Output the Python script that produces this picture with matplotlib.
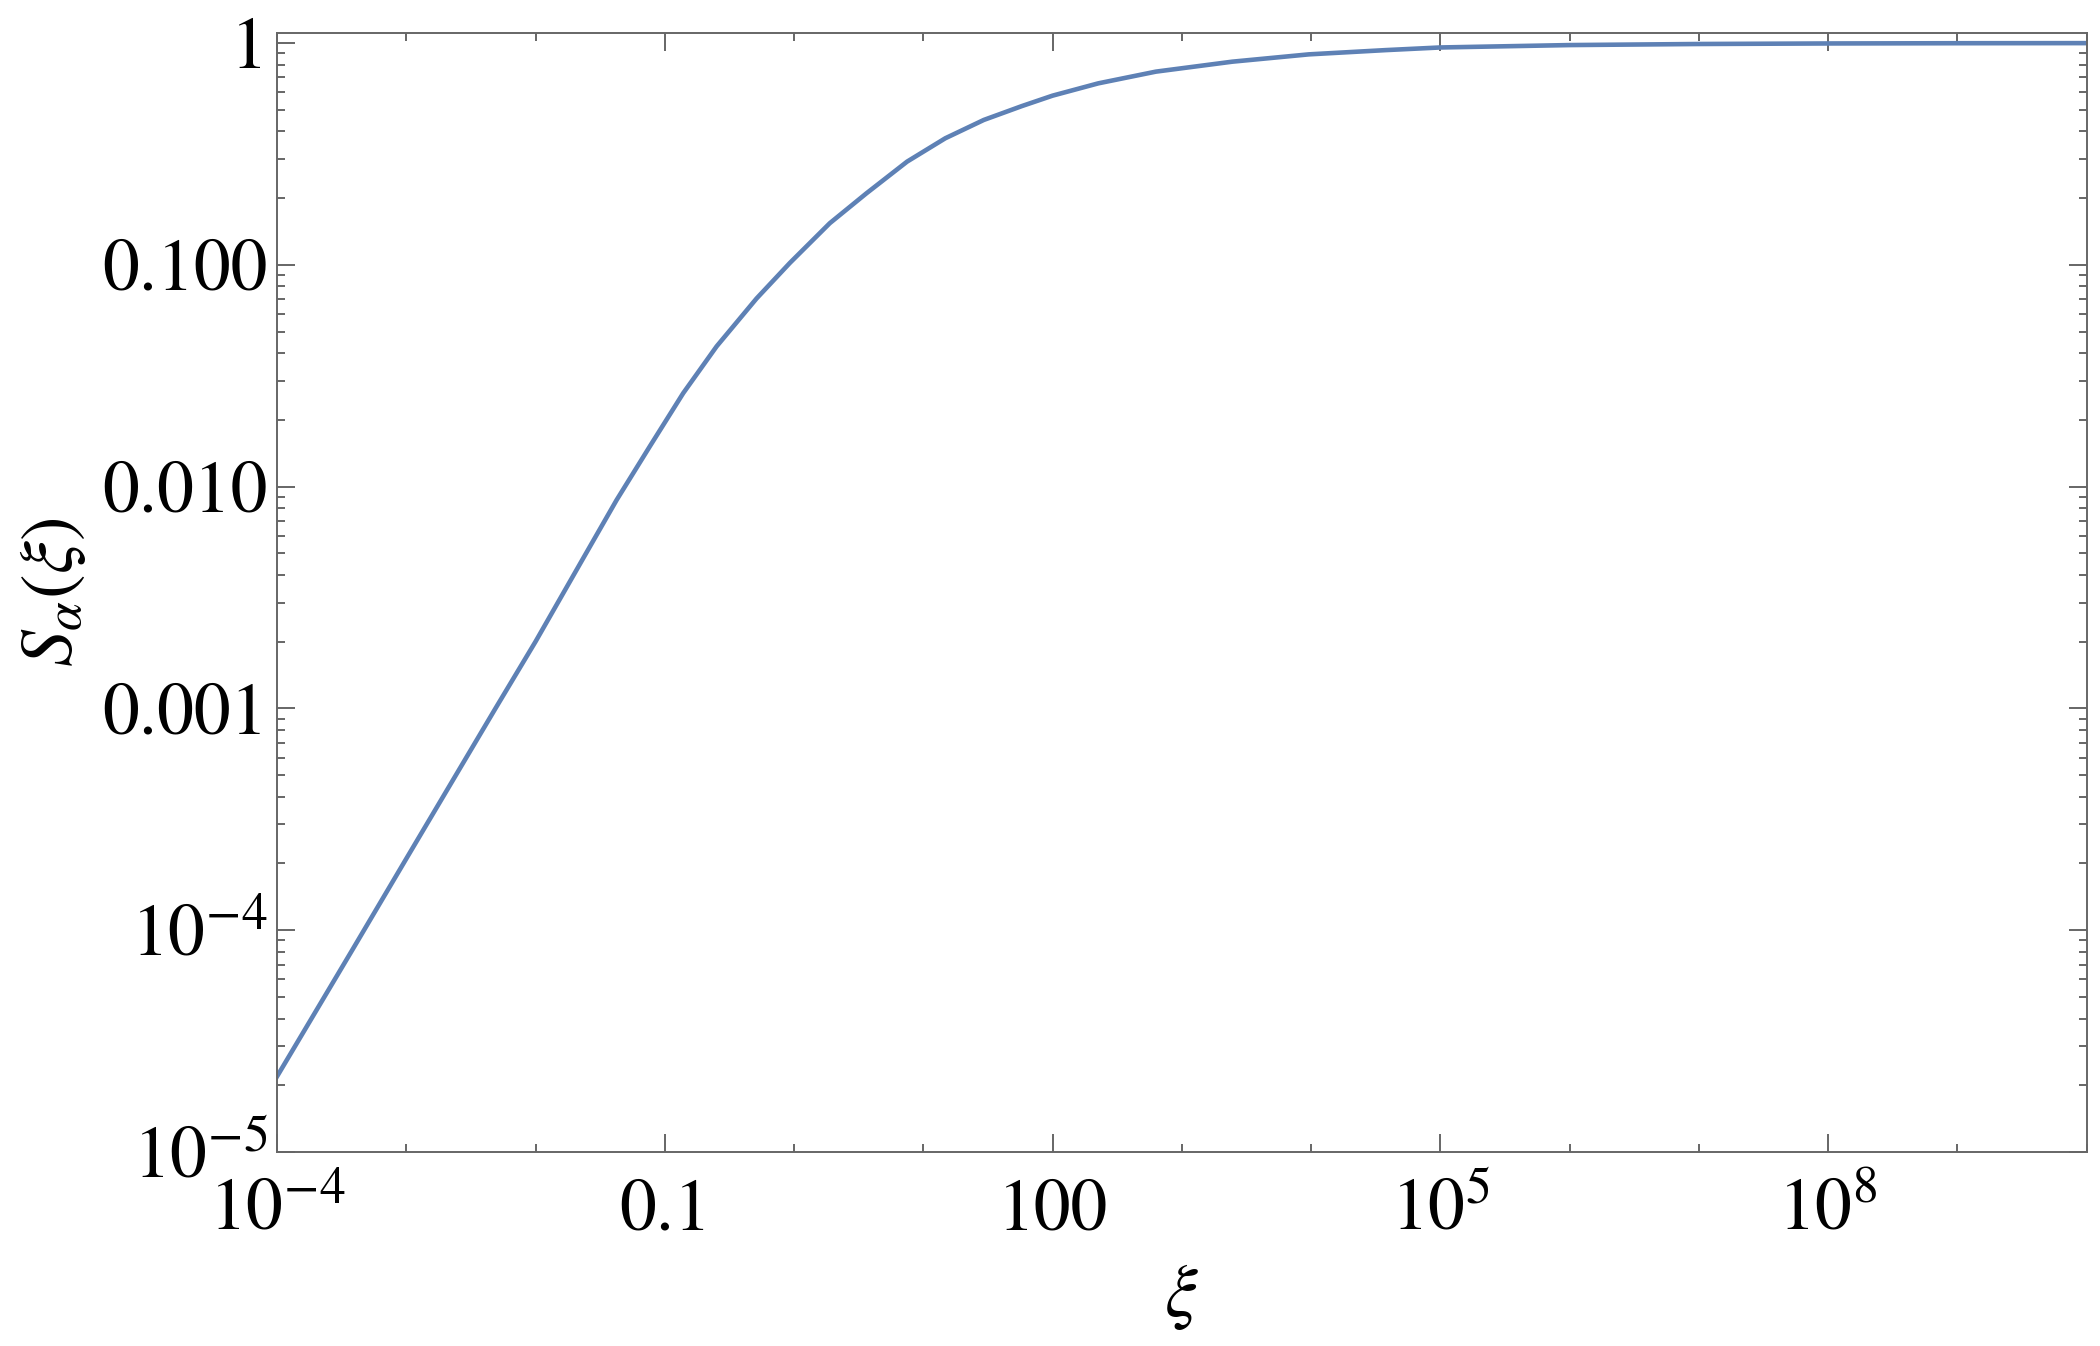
#!/usr/bin/env python
'''
S_alpha(xi) on log-log axes, Mathematica style
Usage: python plot.py
'''

import matplotlib as mpl
mpl.use('Agg')
import matplotlib.pyplot as plt
from matplotlib.ticker import FixedLocator, NullFormatter

# values
xi = [1e-4, 3.85e-4, 1e-3, 4.9e-3, 1e-2, 0.0241, 0.0424, 0.0767, 0.139, 0.252,
      0.513, 0.929, 1.89, 3.63, 7.5, 14.8, 29.4, 58.1, 100, 226, 630, 2460,
      9620, 3.76e4, 1e5, 1e6, 1e7, 1e8, 1e9, 1e10]
S = [2.19e-5, 8.2e-5, 2.1e-4, 1.0e-3, 2.0e-3, 4.9e-3, 8.7e-3, 0.0152, 0.0264, 0.0429,
     0.0705, 0.102, 0.154, 0.210, 0.292, 0.372, 0.450, 0.520, 0.579, 0.658, 0.743, 0.824,
     0.889, 0.929, 0.955, 0.979, 0.990, 0.9955, 0.998, 0.999]

xmajor = [1e-4, 1e-1, 1e2, 1e5, 1e8]
xlabels = ['$10^{-4}$', '0.1', '100', '$10^{5}$', '$10^{8}$']
ymajor = [1e-5, 1e-4, 1e-3, 1e-2, 1e-1, 1]
ylabels = ['$10^{-5}$', '$10^{-4}$', '0.001', '0.010', '0.100', '1']

Xmin, Xmax = 1e-4, 1e10
Ymin, Ymax = 1e-5, 1.11
FigSize = (21, 13.46)
FontSize = 53
LineColor = '#5E81B5'
AxisColor = '#666666'


def plot():
    plt.rcParams['font.family'] = 'STIXGeneral'
    plt.rcParams['mathtext.fontset'] = 'stix'
    fig = plt.figure(figsize=FigSize, dpi=100)
    ax = fig.add_axes([0.1319, 0.1441, 0.8617, 0.8314])

    ax.plot(xi, S, color=LineColor, lw=3.3, solid_joinstyle='round')

    ax.set_xscale('log')
    ax.set_yscale('log')
    ax.set_xlim(Xmin, Xmax)
    ax.set_ylim(Ymin, Ymax)

    # ticks
    ax.xaxis.set_major_locator(FixedLocator(xmajor))
    ax.xaxis.set_minor_locator(FixedLocator([10.0**k for k in range(-4, 11)]))
    ax.set_xticklabels(xlabels)
    ax.xaxis.set_minor_formatter(NullFormatter())
    ymin_t = [m * 10.0**k for k in range(-5, 0) for m in range(2, 10)]
    ax.yaxis.set_major_locator(FixedLocator(ymajor))
    ax.yaxis.set_minor_locator(FixedLocator(ymin_t))
    ax.set_yticklabels(ylabels)
    ax.yaxis.set_minor_formatter(NullFormatter())

    ax.tick_params(which='both', direction='in', top=True, right=True,
                   color=AxisColor, width=1.4, labelsize=FontSize)
    ax.tick_params(which='major', length=13)
    ax.tick_params(which='minor', length=6)
    ax.tick_params(axis='y', pad=7)
    ax.tick_params(axis='x', pad=56)
    for lab in ax.get_xticklabels():
        lab.set_verticalalignment('baseline')

    for sp in ax.spines.values():
        sp.set_color(AxisColor)
        sp.set_linewidth(1.4)

    ax.set_xlabel(r'$\xi$', fontsize=FontSize, labelpad=12)
    ax.set_ylabel(r'$S_{\alpha}(\xi)$', fontsize=FontSize, labelpad=10)

    fig.savefig('out.png', dpi=100)


if __name__ == '__main__':
    plot()
